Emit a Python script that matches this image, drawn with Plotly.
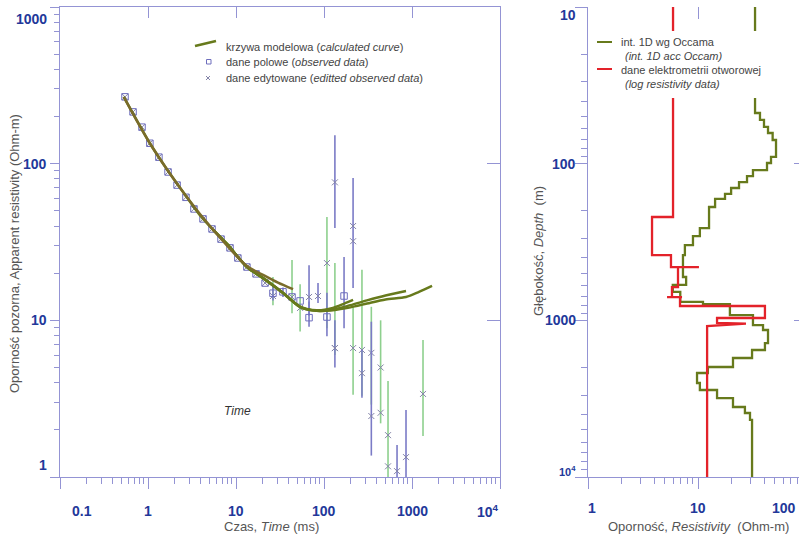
import plotly.graph_objects as go
import math

W, H = 799, 539

# ---------------- LEFT PANEL DATA ----------------
t_obs = [0.548, 0.676, 0.855, 1.05, 1.33, 1.69, 2.14, 2.70, 3.33, 4.22, 5.34, 6.76, 8.55,
         10.5, 13.3, 16.9, 21.4, 26.3, 34.2, 43.3, 53.5, 67.6, 108, 169]
rho_obs = [267, 214, 171, 135, 110, 88.5, 73, 61, 51.4, 44.4, 38.3, 33, 29,
           25, 21.9, 19.8, 17.3, 14.9, 15.2, 14.1, 13.3, 10.4, 10.5, 14.3]
rho_obs_hi = [267, 214, 171, 135, 110, 88.5, 73, 61, 51.4, 44.4, 38.3, 33, 29,
              25, 21.9, 19.8, 17.3, 16.8, 16.2, 14.1, 13.3, 13.2, 15.0, 25.4]
rho_obs_lo = [267, 214, 171, 135, 110, 88.5, 73, 61, 51.4, 44.4, 38.3, 33, 29,
              25, 21.9, 19.8, 17.3, 13.4, 14.1, 14.1, 13.3, 9.1, 7.9, 8.9]

t_edit_a = [0.548, 0.676, 0.855, 1.05, 1.33, 1.69, 2.14, 2.70, 3.33, 4.22, 5.34, 6.76, 8.55,
            10.5, 13.3, 16.9, 21.4, 26.3, 43.3, 53.5, 108, 133, 214, 270, 345, 440, 534, 1334]
rho_edit_a = [267, 214, 171, 135, 110, 88.5, 73, 61, 51.4, 44.4, 38.3, 33, 29,
              25, 21.9, 19.8, 17.3, 14.3, 14.1, 12.0, 23.2, 6.65, 6.65, 6.47, 6.2, 5.0, 1.85, 3.39]
rho_edit_a_hi = [267, 214, 171, 135, 110, 88.5, 73, 61, 51.4, 44.4, 38.3, 33, 29,
                 25, 21.9, 19.8, 17.3, 18.9, 24.3, 17.0, 45.7, 23.2, 12.2, 21.0, 12.2, 10.0, 4.1, 7.5]
rho_edit_a_lo = [267, 214, 171, 135, 110, 88.5, 73, 61, 51.4, 44.4, 38.3, 33, 29,
                 25, 21.9, 19.8, 17.3, 12.5, 11.1, 8.5, 8.9, 6.0, 3.35, 3.3, 2.9, 2.2, 0.8, 1.83]

t_edit_b = [67.6, 85.5, 133, 133, 214, 214, 270, 345, 440, 534, 676, 855]
rho_edit_b = [14.1, 14.3, 76, 6.65, 40, 32, 4.6, 2.45, 2.57, 1.17, 1.09, 1.34]
rho_edit_b_hi = [22.5, 17.3, 152, 10.0, 81, 32, 6.5, 9.8, 2.57, 1.17, 1.6, 2.68]
rho_edit_b_lo = [10.7, 12.9, 38.8, 5.0, 16.1, 32, 3.2, 1.37, 2.57, 1.17, 0.8, 0.8]

t_model_1 = [0.53, 0.7, 1.05, 1.6, 2.77, 4.0, 5.5, 8.0, 13.3, 20.3, 34, 53, 83, 126, 200, 308, 500, 855, 1200, 1690]
rho_model_1 = [267, 202, 135, 94, 61, 46, 37.8, 30.5, 21.9, 18.6, 15.0, 12.2, 11.5, 11.6, 12.1, 12.8, 13.6, 14.1, 15.2, 16.6]
t_model_2 = [5.5, 8.0, 13.3, 20.3, 34, 53, 83, 126, 200, 308, 500, 855]
rho_model_2 = [37.8, 30.5, 21.9, 18.6, 15.0, 12.2, 11.5, 11.7, 12.5, 13.4, 14.4, 15.4]
t_model_3 = [5.5, 8.0, 13.3, 20.3, 34, 53, 83, 126, 170, 214]
rho_model_3 = [37.8, 30.5, 21.9, 18.6, 15.0, 12.3, 11.6, 12.0, 12.8, 13.5]
t_model_4 = [0.53, 1.05, 2.77, 5.5, 13.3, 20.3, 30, 44.5]
rho_model_4 = [267, 135, 61, 37.8, 22.2, 19.5, 17.4, 15.8]

# ---------------- RIGHT PANEL DATA ----------------
occam_res = [33.0, 36.6, 39.8, 43.3, 47.7, 51.2, 46.1, 42.4, 31.6, 27.9, 23.6, 20.0, 17.6, 14.3, 12.6,
             10.4, 9.0, 7.6, 7.3, 7.8, 5.9, 6.9, 11.1, 19.5, 31.6, 39.0, 43.3, 40.6, 31.0, 20.8,
             12.3, 9.8, 10.4, 14.9, 20.8, 26.7, 29.7, 31.0, 31.0]
occam_top = [10, 47.5, 52.6, 58.3, 63.7, 70.6, 90.6, 99, 110, 120, 131, 143, 156, 168, 189,
             258, 290, 331, 383, 529, 594, 659, 763, 787, 925, 1072, 1153, 1396, 1547, 1740,
             1985, 2168, 2511, 2784, 3133, 3575, 3903, 4325, 10000]

log_res = [5.93, 5.93, 3.82, 3.82, 5.68, 5.68, 10.2, 6.58, 6.58, 5.8, 5.8, 5.23, 7.16, 6.86, 6.86,
           40.6, 40.6, 14.9, 14.9, 27.3, 12.1, 12.1]
log_depth = [10, 219, 219, 383, 383, 457, 457, 457, 613, 613, 710, 710, 710, 710, 810,
             810, 966, 966, 1040, 1050, 1087, 10000]

left_x_ticks = [0.1, 1, 10, 100, 1000, 10000]
left_x_labels = ["0.1", "1", "10", "100", "1000", "10<sup>4</sup>"]
left_y_ticks = [1, 10, 100, 1000]
left_y_labels = ["1", "10", "100", "1000"]
right_x_ticks = [1, 10]
right_x_labels = ["1", "10"]
right_x_edge_label = "100"
right_y_ticks = [10, 100, 1000, 10000]
right_y_labels = ["10", "100", "1000", "10<sup>4</sup>"]

# ---------------- STYLE ----------------
AX = "#9494d4"
TICKLBL = "#22389a"
TITLE = "#555555"
OLIVE = "#677a1c"
OLIVE_R = "#7a6c2a"
RED = "#e3222a"
GREEN_ERR = "#8ed08e"
BLUE_ERR = "#7b7bc6"
SQUARE = "#6e6ebd"
XMARK = "#8484a8"
NARROW = "Liberation Sans Narrow, Arial Narrow, Liberation Sans, Arial"
SANS = "Liberation Sans, Arial"


def fx(p):
    return p / W


def fy(p):
    return 1 - p / H


def minors(decades):
    return [m * d for d in decades for m in range(2, 10)]


fig = go.Figure()
xmarker = dict(symbol="x-thin-open", size=6, color=XMARK, line=dict(color=XMARK, width=1))

fig.add_trace(go.Scatter(
    x=t_edit_a, y=rho_edit_a, mode="markers", xaxis="x", yaxis="y", marker=xmarker,
    error_y=dict(type="data", symmetric=False,
                 array=[h - r for h, r in zip(rho_edit_a_hi, rho_edit_a)],
                 arrayminus=[r - l for r, l in zip(rho_edit_a, rho_edit_a_lo)],
                 color=GREEN_ERR, thickness=1.6, width=0),
    showlegend=False, hoverinfo="skip"))
fig.add_trace(go.Scatter(
    x=t_edit_b, y=rho_edit_b, mode="markers", xaxis="x", yaxis="y", marker=xmarker,
    error_y=dict(type="data", symmetric=False,
                 array=[h - r for h, r in zip(rho_edit_b_hi, rho_edit_b)],
                 arrayminus=[r - l for r, l in zip(rho_edit_b, rho_edit_b_lo)],
                 color=BLUE_ERR, thickness=1.6, width=0),
    showlegend=False, hoverinfo="skip"))
fig.add_trace(go.Scatter(
    x=t_obs, y=rho_obs, mode="markers", xaxis="x", yaxis="y",
    marker=dict(symbol="square-open", size=6.5, color=SQUARE, line=dict(color=SQUARE, width=1)),
    error_y=dict(type="data", symmetric=False,
                 array=[h - r for h, r in zip(rho_obs_hi, rho_obs)],
                 arrayminus=[r - l for r, l in zip(rho_obs, rho_obs_lo)],
                 color=BLUE_ERR, thickness=1.6, width=0),
    showlegend=False, hoverinfo="skip"))

for tx, ry, col in [(t_model_1, rho_model_1, OLIVE), (t_model_2, rho_model_2, OLIVE),
                    (t_model_3, rho_model_3, OLIVE), (t_model_4, rho_model_4, OLIVE_R)]:
    fig.add_trace(go.Scatter(x=tx, y=ry, mode="lines", xaxis="x", yaxis="y",
                             line=dict(color=col, width=2.5, shape="spline", smoothing=0.8),
                             showlegend=False, hoverinfo="skip"))

fig.add_trace(go.Scatter(x=occam_res, y=occam_top, mode="lines", xaxis="x2", yaxis="y2",
                         line=dict(color=OLIVE, width=2.3, shape="vh"),
                         showlegend=False, hoverinfo="skip"))
fig.add_trace(go.Scatter(x=log_res, y=log_depth, mode="lines", xaxis="x2", yaxis="y2",
                         line=dict(color=RED, width=2.3),
                         showlegend=False, hoverinfo="skip"))

for xa, ya in [("x3", "y"), ("x", "y3"), ("x4", "y2"), ("x2", "y4")]:
    fig.add_trace(go.Scatter(x=[None], y=[None], xaxis=xa, yaxis=ya, mode="markers",
                             showlegend=False, hoverinfo="skip"))

LX = [fx(60), fx(500)]
RX = [fx(588), 1.0]
YD = [fy(477), fy(7)]
R_RANGE = (W - 588) / 110.0

common = dict(showgrid=False, zeroline=False, showticklabels=False, tickcolor=AX,
              tickwidth=1, linecolor=AX, linewidth=1)

fig.update_layout(
    width=W, height=H, margin=dict(l=0, r=0, t=0, b=0),
    paper_bgcolor="white", plot_bgcolor="white", showlegend=False,
    xaxis=dict(type="log", range=[-1, 4], domain=LX, anchor="y", showline=True, mirror=True,
               ticks="outside", ticklen=11, tickvals=left_x_ticks,
               minor=dict(tickvals=minors([0.1, 1, 10, 100, 1000]), ticks="outside", ticklen=6,
                          tickcolor=AX, showgrid=False), **common),
    yaxis=dict(type="log", range=[0, 3], domain=YD, anchor="x", showline=True, mirror=True,
               ticks="outside", ticklen=9, tickvals=left_y_ticks,
               minor=dict(tickvals=minors([1, 10, 100]), ticks="outside", ticklen=5,
                          tickcolor=AX, showgrid=False), **common),
    xaxis3=dict(type="log", range=[-1, 4], overlaying="x", side="top", anchor="y",
                showline=False, ticks="inside", ticklen=11, tickvals=[1, 10, 100, 1000], **common),
    yaxis3=dict(type="log", range=[0, 3], overlaying="y", side="right", anchor="x",
                showline=False, ticks="inside", ticklen=13, tickvals=[10, 100], **common),
    xaxis2=dict(type="log", range=[0, R_RANGE], domain=RX, anchor="y2", showline=True,
                ticks="outside", ticklen=11, tickvals=[1, 10],
                minor=dict(tickvals=minors([1, 10]), ticks="outside", ticklen=6,
                           tickcolor=AX, showgrid=False), **common),
    yaxis2=dict(type="log", range=[4, 1], domain=YD, anchor="x2", showline=True,
                ticks="outside", ticklen=12, tickvals=right_y_ticks,
                minor=dict(tickvals=minors([10, 100, 1000]), ticks="outside", ticklen=6,
                           tickcolor=AX, showgrid=False), **common),
    xaxis4=dict(type="log", range=[0, R_RANGE], overlaying="x2", side="top", anchor="y2",
                showline=False, ticks="inside", ticklen=12, tickvals=[10], **common),
    yaxis4=dict(type="log", range=[4, 1], overlaying="y2", side="right", anchor="x2",
                showline=False, ticks="inside", ticklen=5, tickvals=[100, 1000], **common),
)

ann = []
tickfont = dict(family=NARROW, size=14, color=TICKLBL, weight=700)

for v, s in zip(left_x_ticks, left_x_labels):
    shift = 22 if v == left_x_ticks[0] else (-12 if v == left_x_ticks[-1] else 0)
    ann.append(dict(x=math.log10(v), xref="x", y=fy(511), yref="paper", text=s,
                    showarrow=False, xanchor="center", yanchor="middle", xshift=shift, font=tickfont))
for v, s in zip(left_y_ticks, left_y_labels):
    shift = 12 if v == left_y_ticks[0] else (-12 if v == left_y_ticks[-1] else 0)
    ann.append(dict(x=fx(49), xref="paper", y=math.log10(v), yref="y", text=s,
                    showarrow=False, xanchor="right", yanchor="middle", yshift=shift, font=tickfont))
for v, s in zip(right_x_ticks, right_x_labels):
    shift = 4 if v == right_x_ticks[0] else 0
    ann.append(dict(x=math.log10(v), xref="x2", y=fy(508), yref="paper", text=s,
                    showarrow=False, xanchor="center", yanchor="middle", xshift=shift, font=tickfont))
# the "100" label sits against the page's right edge
ann.append(dict(x=fx(798), xref="paper", y=fy(508), yref="paper", text=right_x_edge_label,
                showarrow=False, xanchor="right", yanchor="middle", font=tickfont))
for v, s in zip(right_y_ticks, right_y_labels):
    shift = -8 if v == right_y_ticks[0] else (6 if v == right_y_ticks[-1] else 0)
    f = dict(tickfont)
    if v == right_y_ticks[-1]:
        f["size"] = 11
    ann.append(dict(x=fx(578), xref="paper", y=math.log10(v), yref="y2", text=s,
                    showarrow=False, xanchor="right", yanchor="middle", yshift=shift, font=f))

titlefont = dict(family=SANS, size=13, color=TITLE)
centered = dict(xref="paper", yref="paper", showarrow=False, xanchor="center", yanchor="middle")
ann += [
    dict(x=fx(271), y=fy(526), text="Czas, <i>Time</i> (ms)", font=titlefont, **centered),
    dict(x=fx(698), y=fy(526), text="Oporność, <i>Resistivity</i>  (Ohm-m)", font=titlefont, **centered),
    dict(x=fx(14), y=fy(254), text="Oporność pozorna, Apparent resistivity (Ohm-m)", textangle=-90,
         font=titlefont, **centered),
    dict(x=fx(538), y=fy(251), text="Głębokość, <i>Depth</i>  (m)", textangle=-90,
         font=titlefont, **centered),
    dict(x=fx(237), y=fy(411), text="<i>Time</i>",
         font=dict(family=SANS, size=12, color="#333333"), **centered),
]

legfont = dict(family=SANS, size=11, color="#444444")
for txt, yy, xx in [("krzywa modelowa (<i>calculated curve</i>)", 47, 224),
                    ("dane polowe (<i>observed data</i>)", 62, 224),
                    ("dane edytowane (<i>editted observed data</i>)", 78, 224),
                    ("int. 1D wg Occama", 42, 619),
                    ("<i>(int. 1D acc Occam)</i>", 56, 623),
                    ("dane elektrometrii otworowej", 70, 619),
                    ("<i>(log resistivity data)</i>", 84, 623)]:
    ann.append(dict(x=fx(xx), y=fy(yy), xref="paper", yref="paper", text=txt, showarrow=False,
                    xanchor="left", yanchor="middle", font=legfont))

shapes = [
    dict(type="rect", xref="paper", yref="paper", x0=fx(591), x1=fx(792), y0=fy(98), y1=fy(31),
         fillcolor="white", line=dict(width=0), layer="above"),
    dict(type="line", xref="paper", yref="paper", x0=fx(597), x1=fx(612), y0=fy(42), y1=fy(42),
         line=dict(color=OLIVE, width=2), layer="above"),
    dict(type="line", xref="paper", yref="paper", x0=fx(597), x1=fx(612), y0=fy(69), y1=fy(69),
         line=dict(color=RED, width=2), layer="above"),
    dict(type="line", xref="paper", yref="paper", x0=fx(195), x1=fx(216), y0=fy(46), y1=fy(41),
         line=dict(color=OLIVE, width=2.5), layer="above"),
    dict(type="rect", xref="paper", yref="paper", x0=fx(206.5), x1=fx(211), y0=fy(64), y1=fy(59.5),
         line=dict(color=SQUARE, width=1), fillcolor="rgba(0,0,0,0)", layer="above"),
    dict(type="line", xref="paper", yref="paper", x0=fx(206), x1=fx(210), y0=fy(80), y1=fy(76),
         line=dict(color=XMARK, width=1), layer="above"),
    dict(type="line", xref="paper", yref="paper", x0=fx(206), x1=fx(210), y0=fy(76), y1=fy(80),
         line=dict(color=XMARK, width=1), layer="above"),
]

fig.update_layout(annotations=ann, shapes=shapes)
fig.write_html("out.html", config={"displayModeBar": False},
               post_script="document.body.style.margin='0';document.body.style.overflow='hidden';")
